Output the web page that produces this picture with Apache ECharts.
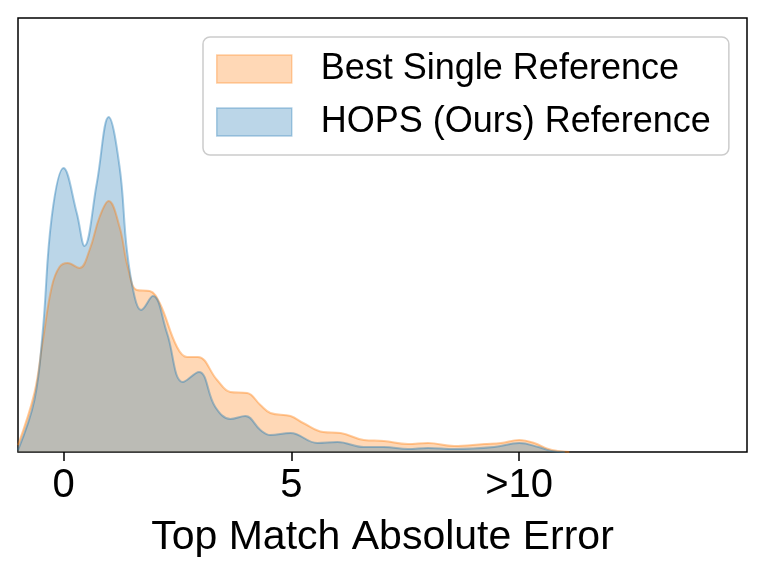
<!DOCTYPE html>
<html>
<head>
<meta charset="utf-8">
<script src="https://cdn.jsdelivr.net/npm/echarts@6/dist/echarts.min.js"></script>
<style>html,body{margin:0;padding:0;background:#fff;}#c{width:765px;height:577px;}</style>
</head>
<body>
<div id="c"></div>
<script>
const seriesNames = ['Best Single Reference', 'HOPS (Ours) Reference'];
const bestSingle = [[-1.0,0.007],[-0.64,0.059],[-0.46,0.110],[-0.26,0.165],[-0.09,0.185],[0.09,0.189],[0.35,0.184],[0.57,0.202],[0.79,0.235],[0.99,0.251],[1.23,0.225],[1.41,0.185],[1.61,0.162],[1.89,0.161],[2.11,0.149],[2.49,0.105],[2.71,0.095],[2.95,0.095],[3.37,0.072],[3.66,0.060],[4.03,0.059],[4.32,0.047],[4.54,0.039],[4.98,0.036],[5.26,0.029],[5.70,0.020],[6.08,0.019],[6.59,0.012],[7.03,0.011],[7.56,0.008],[8.00,0.009],[8.57,0.006],[9.23,0.008],[9.60,0.009],[10.0,0.012],[10.33,0.009],[10.64,0.003],[10.86,0.001],[11.1,0]];
const hops = [[-1.0,0.002],[-0.64,0.052],[-0.46,0.119],[-0.26,0.235],[0,0.284],[0.29,0.239],[0.46,0.206],[0.73,0.269],[0.99,0.335],[1.23,0.285],[1.39,0.202],[1.56,0.155],[1.70,0.142],[1.96,0.156],[2.27,0.119],[2.62,0.070],[2.97,0.080],[3.33,0.045],[3.66,0.033],[3.99,0.036],[4.32,0.022],[4.54,0.017],[4.98,0.019],[5.57,0.009],[6.01,0.010],[6.59,0.005],[7.03,0.005],[7.56,0.003],[8.00,0.004],[8.57,0.003],[9.45,0.005],[10.0,0.009],[10.42,0.005],[10.7,0.001],[11.0,0]];
const tickValues = [0, 5, 10];
const tickLabels = ['0', '5', '>10'];
const xTitle = 'Top Match Absolute Error';

const FONT = '"Liberation Sans", Arial, Helvetica, sans-serif';
const chart = echarts.init(document.getElementById('c'), null, {renderer: 'canvas'});
chart.setOption({
  animation: false,
  backgroundColor: '#fff',
  grid: {left: 18, right: 18, top: 18, bottom: 125, show: true, borderColor: '#000', borderWidth: 1.5, backgroundColor: 'transparent'},
  xAxis: {
    type: 'value', min: -1, max: 15,
    axisLine: {show: false},
    splitLine: {show: false},
    axisTick: {show: true, customValues: tickValues, length: 9, lineStyle: {color: '#000', width: 1.5}},
    axisLabel: {show: true, customValues: tickValues, margin: 14, color: '#000', fontSize: 40, fontFamily: FONT,
      formatter: function (v) { const i = tickValues.indexOf(v); return i >= 0 ? tickLabels[i] : ''; }},
    name: xTitle, nameLocation: 'middle', nameGap: 65,
    nameTextStyle: {color: '#000', fontSize: 41, fontFamily: FONT}
  },
  yAxis: {type: 'value', min: 0, max: 0.434, show: false},
  legend: {
    orient: 'vertical', left: 203, top: 37,
    padding: [14, 18, 15, 13],
    itemWidth: 75, itemHeight: 28, itemGap: 17,
    icon: 'rect',
    backgroundColor: 'rgba(255,255,255,0.8)', borderColor: '#cccccc', borderWidth: 1.5, borderRadius: 7,
    textStyle: {color: '#000', fontSize: 36, fontFamily: FONT, padding: [0, 0, 0, 24]},
    data: [
      {name: seriesNames[0], itemStyle: {color: 'rgba(255,127,14,0.3)', borderColor: 'rgba(255,127,14,0.35)', borderWidth: 1.5}},
      {name: seriesNames[1], itemStyle: {color: 'rgba(31,119,180,0.3)', borderColor: 'rgba(31,119,180,0.35)', borderWidth: 1.5}}
    ]
  },
  series: [
    {name: seriesNames[0], type: 'line', data: bestSingle, smooth: 0.4, showSymbol: false, symbol: 'none',
      lineStyle: {color: 'rgba(255,127,14,0.4)', width: 2},
      itemStyle: {color: 'rgba(255,127,14,0.3)'},
      areaStyle: {color: 'rgba(255,127,14,0.3)', opacity: 1}},
    {name: seriesNames[1], type: 'line', data: hops, smooth: 0.4, showSymbol: false, symbol: 'none',
      lineStyle: {color: 'rgba(31,119,180,0.4)', width: 2},
      itemStyle: {color: 'rgba(31,119,180,0.3)'},
      areaStyle: {color: 'rgba(31,119,180,0.3)', opacity: 1}}
  ]
});
</script>
</body>
</html>
